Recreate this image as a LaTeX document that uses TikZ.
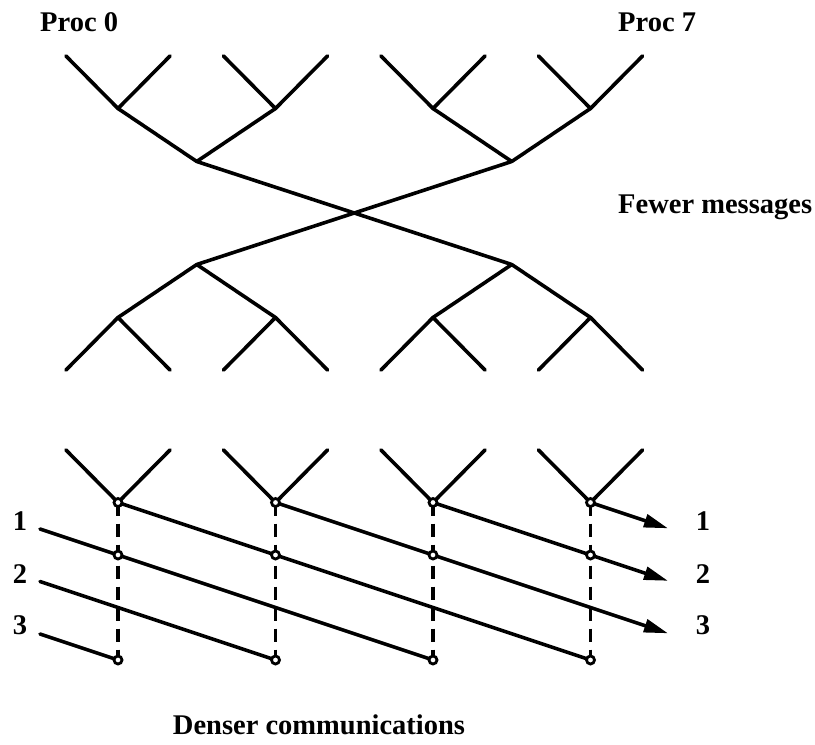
\documentclass[tikz,border=0pt]{standalone}
\usepackage{fontspec}
\setmainfont{Liberation Serif}
\usetikzlibrary{arrows.meta}
\begin{document}
\begin{tikzpicture}[x=1pt,y=-1pt,
  wire/.style={line width=3.6pt, line cap=round, line join=round},
  guide/.style={line width=3.6pt, dash pattern=on 13pt off 8pt},
  ring/.style={line width=2.8pt, fill=white},
  msg/.style={line width=3.6pt, -{Triangle[length=24pt,width=13pt]}},
  lbl/.style={font=\fontsize{28.5}{34}\selectfont\bfseries, inner sep=0pt}]
\useasboundingbox (0,0) rectangle (815,745);

% joints of the two butterfly trees and of the pipelined columns
\foreach \i/\x in {1/118,2/275.5,3/433,4/590.5} {
  \coordinate (tl\i) at (\x-52,56);
  \coordinate (tr\i) at (\x+52,56);
  \coordinate (ta\i) at (\x,108.5);
  \coordinate (ua\i) at (\x,317.5);
  \coordinate (ul\i) at (\x-52,370);
  \coordinate (ur\i) at (\x+52,370);
  \coordinate (vl\i) at (\x-52,450);
  \coordinate (vr\i) at (\x+52,450);
  \coordinate (va\i) at (\x,502.5);
  \coordinate (rb\i) at (\x,555);
  \coordinate (rc\i) at (\x,607.5);
  \coordinate (rd\i) at (\x,660);
}
\coordinate (tb1) at (196.75,161.5);
\coordinate (tb2) at (511.75,161.5);
\coordinate (ub1) at (196.75,264.5);
\coordinate (ub2) at (511.75,264.5);

% upper tree and its mirror image
\foreach \i in {1,...,4} {
  \draw[wire] (tl\i) -- (ta\i) -- (tr\i);
  \draw[wire] (ul\i) -- (ua\i) -- (ur\i);
}
\draw[wire] (ta1) -- (tb1) -- (ta2);
\draw[wire] (ta3) -- (tb2) -- (ta4);
\draw[wire] (ua1) -- (ub1) -- (ua2);
\draw[wire] (ua3) -- (ub2) -- (ua4);
\draw[wire] (tb1) -- (ub2);
\draw[wire] (tb2) -- (ub1);

% pipelined columns
\foreach \i in {1,...,4} {
  \draw[wire] (vl\i) -- (va\i) -- (vr\i);
  \draw[guide] (va\i) -- (rd\i);
}

% message streams
\coordinate (s1) at (40,529);
\coordinate (s2) at (40,581.5);
\coordinate (s3) at (40,634);
\coordinate (e1) at (668,528.3);
\coordinate (e2) at (668,580.8);
\coordinate (e3) at (668,633.3);

\draw[wire] (s1) -- (rb1) -- (rc2) -- (rd3);
\draw[wire] (s2) -- (rc1) -- (rd2);
\draw[wire] (s3) -- (rd1);
\draw[wire] (va1) -- (rb2) -- (rc3) -- (rd4);
\draw[msg] (va2) -- (rb3) -- (rc4) -- (e3);
\draw[msg] (va3) -- (rb4) -- (e2);
\draw[msg] (va4) -- (e1);

\foreach \i in {1,...,4} {
  \draw[ring] (va\i) circle (4pt);
  \draw[ring] (rb\i) circle (4pt);
  \draw[ring] (rd\i) circle (4pt);
}

% labels
\node[lbl, anchor=base west] (p0) at (40,31) {Proc 0};
\node[lbl, anchor=base west] (p7) at (618,31) {Proc 7};
\node[lbl, anchor=base west] (few) at (618,213) {Fewer messages};
\node[lbl, anchor=base] (dense) at (319,734) {Denser communications};
\node[lbl, anchor=base] (l1) at (20,530) {1};
\node[lbl, anchor=base] (l2) at (20,583) {2};
\node[lbl, anchor=base] (l3) at (20,634) {3};
\node[lbl, anchor=base] (r1) at (703,530) {1};
\node[lbl, anchor=base] (r2) at (703,583) {2};
\node[lbl, anchor=base] (r3) at (703,634) {3};
\end{tikzpicture}
\end{document}
